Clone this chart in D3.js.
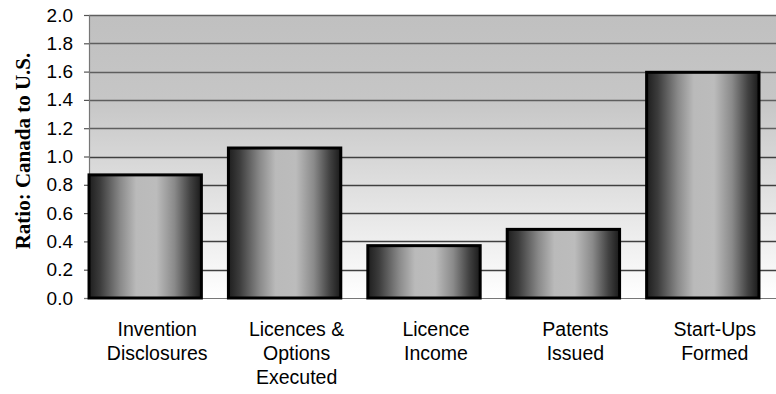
<!DOCTYPE html>
<html>
<head>
<meta charset="utf-8">
<script src="https://cdn.jsdelivr.net/npm/d3@7/dist/d3.min.js"></script>
<style>
  html, body { margin: 0; padding: 0; background: #fff; }
  svg { display: block; }
</style>
</head>
<body>
<svg id="chart" width="776" height="394"></svg>
<script>
// Technology-transfer ratios, Canada relative to U.S.
const categories = [
  ["Invention", "Disclosures"],
  ["Licences &", "Options", "Executed"],
  ["Licence", "Income"],
  ["Patents", "Issued"],
  ["Start-Ups", "Formed"]
];
const ratios = [0.87, 1.06, 0.37, 0.485, 1.595];
const yTicks = [0, 0.2, 0.4, 0.6, 0.8, 1.0, 1.2, 1.4, 1.6, 1.8, 2.0];
const yTitle = "Ratio: Canada to U.S.";

const svg = d3.select("#chart");
const plot = { left: 89, right: 776, top: 15, bottom: 298 };
const keys = categories.map((c, i) => i);

const x = d3.scaleBand()
  .domain(keys)
  .range([75.5, 772.5])
  .paddingInner(0.194)
  .paddingOuter(0.097);

const y = d3.scaleLinear().domain([0, 2]).range([plot.bottom, plot.top]);

const defs = svg.append("defs");
const bg = defs.append("linearGradient").attr("id", "bg")
  .attr("x1", 0).attr("y1", 0).attr("x2", 0).attr("y2", 1);
bg.append("stop").attr("offset", "0%").attr("stop-color", "#c0c0c0");
bg.append("stop").attr("offset", "30%").attr("stop-color", "#c6c6c6");
bg.append("stop").attr("offset", "100%").attr("stop-color", "#ffffff");

const barGrad = defs.append("linearGradient").attr("id", "barGrad")
  .attr("x1", 0).attr("y1", 0).attr("x2", 1).attr("y2", 0);
[["0%", "#1e1e1e"], ["10%", "#3c3c3c"], ["28%", "#8a8a8a"], ["42%", "#bababa"],
 ["60%", "#bcbcbc"], ["76%", "#8a8a8a"], ["90%", "#424242"], ["100%", "#1a1a1a"]]
  .forEach(([o, c]) => barGrad.append("stop").attr("offset", o).attr("stop-color", c));

// plot background
svg.append("rect")
  .attr("x", plot.left).attr("y", plot.top)
  .attr("width", plot.right - plot.left).attr("height", plot.bottom - plot.top)
  .attr("fill", "url(#bg)");

// horizontal gridlines
svg.append("g").selectAll("line").data(yTicks.filter(d => d > 0)).join("line")
  .attr("x1", plot.left).attr("x2", plot.right)
  .attr("y1", d => Math.round(y(d)) + 0.5).attr("y2", d => Math.round(y(d)) + 0.5)
  .attr("stroke", d => d >= 1.2 ? "#5e5e5e" : "#404040")
  .attr("stroke-width", 1.6);

// y axis with outward ticks
const yAxis = d3.axisLeft(y).tickValues(yTicks).tickFormat(d3.format(".1f"))
  .tickSize(5).tickPadding(11);
const gy = svg.append("g").attr("transform", `translate(${plot.left},0)`).call(yAxis);
gy.select(".domain").attr("stroke", "#777").attr("stroke-width", 1.2);
gy.selectAll(".tick line").attr("stroke", "#555").attr("stroke-width", 1.2);
gy.selectAll(".tick text")
  .attr("font-family", "'Liberation Sans', Arial, sans-serif")
  .attr("font-size", 19).attr("fill", "#000");

// x baseline
svg.append("line")
  .attr("x1", plot.left - 5).attr("x2", plot.right)
  .attr("y1", plot.bottom + 0.5).attr("y2", plot.bottom + 0.5)
  .attr("stroke", "#777").attr("stroke-width", 1.2);

// bars
svg.append("g").selectAll("rect").data(ratios).join("rect")
  .attr("x", (d, i) => x(i))
  .attr("y", d => y(d))
  .attr("width", x.bandwidth())
  .attr("height", d => y(0) - y(d))
  .attr("fill", "url(#barGrad)")
  .attr("stroke", "#000")
  .attr("stroke-width", 3);

// category labels (set slightly right of the bar centres)
const labelShift = 12;
const labels = svg.append("g").selectAll("text").data(categories).join("text")
  .attr("x", (d, i) => x(i) + x.bandwidth() / 2 + labelShift)
  .attr("y", 335.5)
  .attr("text-anchor", "middle")
  .attr("font-family", "'Liberation Sans', Arial, sans-serif")
  .attr("font-size", 19.5)
  .attr("fill", "#000");
labels.selectAll("tspan").data(d => d).join("tspan")
  .attr("x", function () { return d3.select(this.parentNode).attr("x"); })
  .attr("dy", (d, i) => i === 0 ? 0 : 24)
  .text(d => d);

// y axis title
svg.append("text")
  .attr("transform", `translate(30,151) rotate(-90)`)
  .attr("text-anchor", "middle")
  .attr("font-family", "'Liberation Serif', 'Times New Roman', serif")
  .attr("font-weight", "bold")
  .attr("font-size", 21)
  .attr("fill", "#000")
  .text(yTitle);
</script>
</body>
</html>
